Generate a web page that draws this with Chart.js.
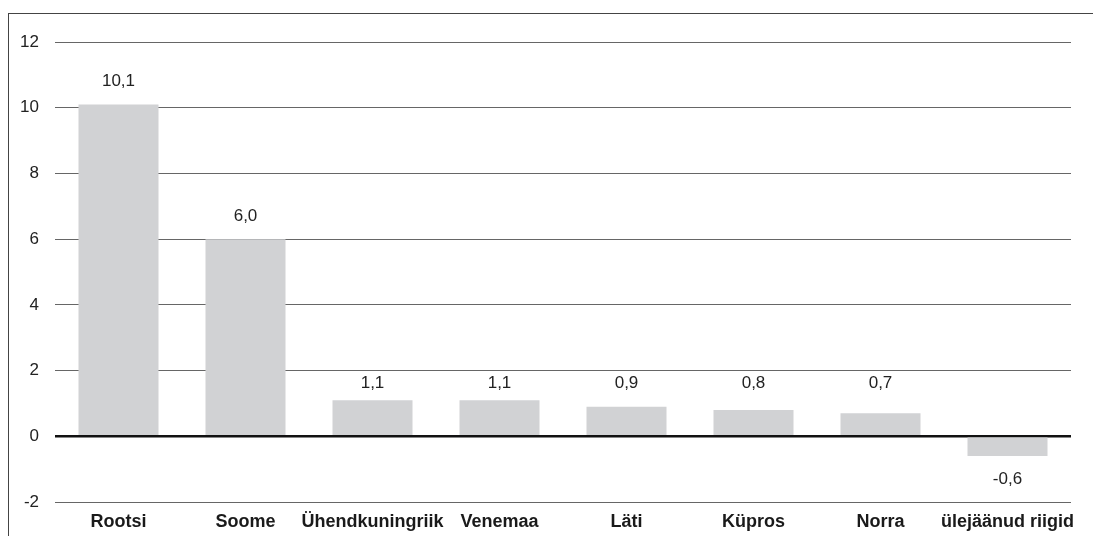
<!DOCTYPE html>
<html>
<head>
<meta charset="utf-8">
<script src="https://cdn.jsdelivr.net/npm/chart.js@4"></script>
<style>
  body { margin: 0; background: #fff; }
  #wrap { position: relative; width: 1093px; height: 536px; overflow: hidden; }
  #frame { position: absolute; left: 8px; top: 13px; width: 1200px; height: 600px;
           border-left: 1px solid #444; border-top: 1px solid #444; }
  canvas { position: absolute; left: 0; top: 0; }
</style>
</head>
<body>
<div id="wrap">
  <div id="frame"></div>
  <canvas id="chart1" width="1093" height="536"></canvas>
</div>
<script>
const categories = ['Rootsi', 'Soome', 'Ühendkuningriik', 'Venemaa', 'Läti', 'Küpros', 'Norra', 'ülejäänud riigid'];
const values = [10.1, 6.0, 1.1, 1.1, 0.9, 0.8, 0.7, -0.6];
const yTicks = [-2, 0, 2, 4, 6, 8, 10, 12];

const FONT = '"Liberation Sans", Arial, Helvetica, sans-serif';

function fmt(v) {
  return v.toFixed(1).replace('.', ',');
}

// value labels above / below the bars (small bars share one row)
const valueLabels = {
  id: 'valueLabels',
  afterDatasetsDraw(chart) {
    const c = chart.ctx;
    const y = chart.scales.y;
    const zero = y.getPixelForValue(0);
    const meta = chart.getDatasetMeta(0);
    c.save();
    c.font = '17px ' + FONT;
    c.fillStyle = '#222';
    c.textAlign = 'center';
    c.textBaseline = 'middle';
    meta.data.forEach(function(bar, i) {
      const v = values[i];
      let ty;
      if (v >= 0) {
        ty = (bar.y - 23 < zero - 75) ? bar.y - 23 : zero - 53;
      } else {
        ty = bar.y + 23;
      }
      c.fillText(fmt(v), bar.x, ty);
    });
    c.restore();
  }
};

const ctx = document.getElementById('chart1');

const chart1 = new Chart(ctx, {
  type: 'bar',
  data: {
    labels: categories,
    datasets: [{
      data: values,
      backgroundColor: '#d1d2d4',
      borderWidth: 0,
      categoryPercentage: 1,
      barPercentage: 0.63,
    }]
  },
  options: {
    responsive: false,
    animation: false,
    layout: {
      padding: { left: 0, right: 22, top: 42, bottom: 0 }
    },
    plugins: {
      legend: { display: false },
      tooltip: { enabled: false },
    },
    scales: {
      x: {
        grid: { display: false },
        border: { display: false },
        ticks: {
          color: '#1a1a1a',
          padding: 1,
          maxRotation: 0,
          autoSkip: false,
          font: { family: FONT, size: 18, weight: 'bold' },
        },
        afterFit: function(scale) { scale.height = 34; },
      },
      y: {
        min: -2,
        max: 12,
        afterBuildTicks: function(scale) {
          scale.ticks = yTicks.map(function(v) { return { value: v }; });
        },
        grid: {
          drawTicks: false,
          color: function(c) { return c.tick && c.tick.value === 0 ? '#111' : '#666'; },
          lineWidth: function(c) { return c.tick && c.tick.value === 0 ? 2.4 : 1; },
        },
        border: { display: false },
        ticks: {
          color: '#222',
          padding: 16,
          font: { family: FONT, size: 17 },
          callback: function(v) { return String(v); },
        },
        afterFit: function(scale) { scale.width = 55; },
      }
    }
  },
  plugins: [valueLabels],
});
</script>
</body>
</html>
